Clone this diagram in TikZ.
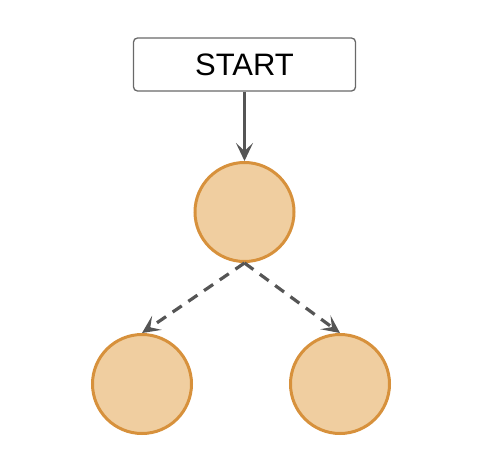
\documentclass[tikz,border=0pt]{standalone}
\usepackage{fontspec}
\setmainfont{Liberation Sans}
\usetikzlibrary{arrows.meta}
\definecolor{edgegray}{RGB}{85,85,85}
\definecolor{boxgray}{RGB}{105,105,105}
\definecolor{peach}{RGB}{240,206,160}
\definecolor{peachline}{RGB}{215,145,60}
\tikzset{
  startbox/.style={draw=boxgray, line width=1.3pt, rounded corners=4pt, fill=white,
    minimum width=222pt, minimum height=53pt, inner sep=0pt, font=\fontsize{31}{31}\selectfont},
  circnode/.style={circle, draw=peachline, fill=peach, line width=3pt, minimum size=99pt, inner sep=0pt},
  solidarrow/.style={draw=edgegray, line width=3pt, -{Stealth[length=18pt,width=17pt,inset=8pt]}},
  dasharrow/.style={draw=edgegray, line width=3.2pt, dash pattern=on 11pt off 8pt, -{Stealth[length=18pt,width=17pt,inset=8pt]}}
}
\begin{document}
\begin{tikzpicture}[x=1pt,y=-1pt]
\useasboundingbox (0,0) rectangle (485,453);
\node[startbox] (start) at (244.5,64.5) {START};
\node[circnode] (top) at (244.5,212) {};
\node[circnode] (left) at (142,384) {};
\node[circnode] (right) at (340,384) {};
\draw[solidarrow] (start.south) -- (top.north);
\draw[dasharrow] (top.south) -- (left.north);
\draw[dasharrow] (top.south) -- (right.north);
\end{tikzpicture}
\end{document}
